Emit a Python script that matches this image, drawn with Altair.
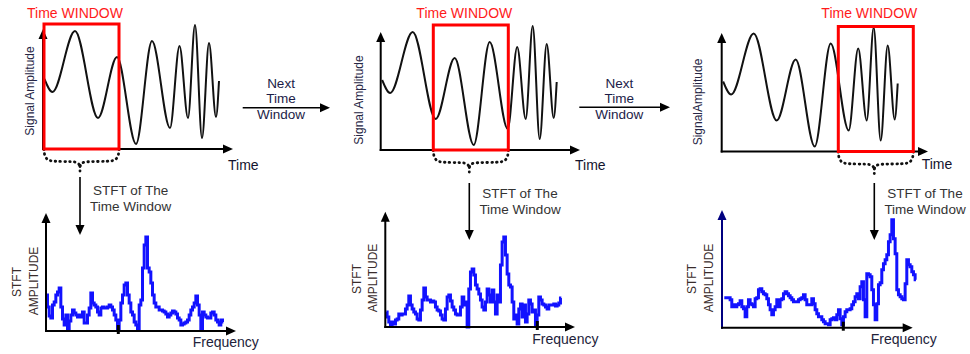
import altair as alt
import pandas as pd

W, H = 970, 354

# ---------------- values ----------------
# signal: time (from the start of the time axis) and amplitude of successive extrema
sig_time = [1.5, 9.5, 32, 55, 74, 93, 109, 127, 136.5, 145, 152, 159, 166, 173, 176]
sig_amp = [70, 57, 118, 31, 92, 5, 108, 21, 103, 31, 124, 11, 106, 32, 68]

# time window (same time units) in each of the three snapshots
window_start = [1, 52.6, 116.6]
window_length = 75
window_top = 125

# STFT amplitude of each window, on successive frequency bins
spec_1 = [36, 24, 15, 13, 26, 29, 36, 39, 43, 24, 12, 6, 16, 2, 10, 16, 21, 18, 16, 14,
          16, 14, 19, 8, 8, 16, 23, 38, 28, 26, 24, 19, 16, 23, 24, 23, 23, 24, 26, 24,
          21, 16, 11, 2, 11, 28, 36, 46, 48, 36, 28, 19, 16, 9, 6, 1, 26, 31, 63, 86,
          94, 63, 59, 48, 36, 28, 24, 24, 21, 21, 20, 19, 17, 14, 16, 18, 20, 19, 17, 13,
          11, 6, 7, 8, 9, 11, 16, 21, 24, 28, 35, 26, 16, 1, 19, 16, 14, 13, 13, 18,
          19, 16, 11, 9, 6, 11, 9]
spec_2 = [15, 10, 5, 2, 5, 3, 7, 8, 13, 12, 13, 13, 18, 22, 31, 22, 18, 15, 13, 8,
          7, 17, 27, 39, 30, 27, 27, 25, 26, 25, 20, 17, 16, 12, 8, 7, 18, 30, 32, 26,
          20, 17, 13, 12, 12, 20, 30, 22, 25, 0, 38, 55, 58, 52, 42, 38, 33, 27, 20, 17,
          25, 38, 32, 25, 37, 25, 13, 32, 25, 62, 85, 90, 72, 53, 42, 40, 25, 8, 12, 3,
          18, 23, 10, 22, 5, 13, 27, 23, 15, 17, 2, 12, 30, 27, 23, 22, 20, 18, 22, 22,
          22, 23, 21, 22, 24, 29]
spec_3 = [30, 30, 30, 30, 28, 21, 23, 21, 23, 24, 27, 21, 19, 11, 21, 28, 24, 23, 21, 29,
          30, 38, 39, 36, 34, 33, 29, 23, 18, 13, 18, 21, 28, 21, 28, 29, 34, 36, 34, 32,
          30, 28, 26, 26, 26, 28, 29, 30, 33, 28, 23, 23, 23, 29, 24, 18, 14, 11, 11, 8,
          6, 4, 4, 3, 8, 9, 10, 8, 13, 18, 9, 3, 11, 16, 18, 18, 19, 23, 26, 31,
          34, 29, 41, 46, 28, 11, 54, 53, 51, 38, 23, 8, 24, 43, 45, 58, 64, 68, 73, 86,
          93, 108, 89, 74, 38, 33, 31, 29, 28, 44, 68, 63, 61, 56, 53, 48]
spectra = [spec_1, spec_2, spec_3]
spec_first_bin = [0.67, 1.0, 2.3]
bin_width = 5 / 3

# texts
window_label = "Time WINDOW"
time_label = "Time"
amp_labels = ["Signal Amplitude", "Signal Amplitude", "SignalAmplitude"]
stft_lines = ["STFT of The", "Time Window"]
next_lines = ["Next", "Time", "Window"]
freq_label = "Frequency"
spec_ylabel = ["STFT", "AMPLITUDE"]

# ---------------- layout ----------------
FONT = "Liberation Sans"
top = [
    dict(ox=43, oy=149, ytop=29, xtip=233, lx=30, ly=91, tx=228, ty=169.5, a0=177, a1=235, sy=195),
    dict(ox=380.7, oy=150, ytop=32, xtip=580, lx=358.8, ly=100, tx=575, ty=169.5, a0=183, a1=240, sy=198),
    dict(ox=721.7, oy=151.5, ytop=33, xtip=928, lx=698.3, ly=102, tx=921.7, ty=168.5, a0=183, a1=240, sy=198),
]
bottom = [
    dict(ox=46, oy=331, ytop=213, xtip=236, sx=16.7, ax=34.3, ly=281, fx=192.7, fy=347, tick=72.3, col="black"),
    dict(ox=385.3, oy=327, ytop=211.7, xtip=575, sx=356.7, ax=373.3, ly=278, fx=532.3, fy=344, tick=152, col="black"),
    dict(ox=722, oy=327.7, ytop=210, xtip=912.7, sx=692.3, ax=709, ly=278, fx=870.7, fy=344, tick=121.3, col="#000080"),
]
nexts = [dict(x0=242.7, x1=330, y=107.7, tx=281), dict(x0=579.3, x1=670, y=107.3, tx=619.3)]

xs = alt.Scale(domain=[0, W], range=[0, W], nice=False, zero=False)
ys = alt.Scale(domain=[0, H], range=[0, H], nice=False, zero=False)


def X(f):
    return alt.X(f"{f}:Q", scale=xs, axis=None)


def Y(f):
    return alt.Y(f"{f}:Q", scale=ys, axis=None)


# signal table
rows = []
for k, p in enumerate(top):
    for t, a in zip(sig_time, sig_amp):
        rows.append(dict(panel=k, t=t, amp=a, ox=p["ox"], oy=p["oy"]))
sig_df = pd.DataFrame(rows)

signal = alt.Chart(sig_df).transform_calculate(
    px="datum.ox + datum.t", py="datum.oy - datum.amp"
).mark_line(interpolate="monotone", color="#111111", strokeWidth=2).encode(
    x=X("px"), y=Y("py"), detail="panel:N"
)

# windows
win_df = pd.DataFrame([
    dict(panel=k, ws=ws, ox=top[k]["ox"], oy=top[k]["oy"]) for k, ws in enumerate(window_start)
])
windows = alt.Chart(win_df).transform_calculate(
    x1="datum.ox + datum.ws", x2="datum.ox + datum.ws + %f" % window_length,
    y1="datum.oy - %f" % window_top, y2="datum.oy"
).mark_rect(fillOpacity=0, stroke="#ff0000", strokeWidth=3).encode(
    x=X("x1"), x2="x2:Q", y=Y("y1"), y2="y2:Q"
)
win_text = alt.Chart(win_df).transform_calculate(
    px="datum.ox + datum.ws + %f - 6.5" % (window_length / 2), py="17.5", label="'%s'" % window_label
).mark_text(font=FONT, fontSize=14, color="#ff1a1a", align="center", baseline="alphabetic").encode(
    x=X("px"), y=Y("py"), text="label:N"
)

# spectra table
rows = []
for k, sp in enumerate(spectra):
    b = bottom[k]
    for i, a in enumerate(sp):
        rows.append(dict(panel=k, f=spec_first_bin[k] + i * bin_width, amp=a, ox=b["ox"], oy=b["oy"]))
spec_df = pd.DataFrame(rows)
spec = alt.Chart(spec_df).transform_calculate(
    px="datum.ox + datum.f", py="datum.oy - datum.amp"
).mark_line(interpolate="step", color="#1212ff", strokeWidth=3).encode(
    x=X("px"), y=Y("py"), detail="panel:N"
)

# axis lines, arrows and small marks
rules = []
ups, rights, downs = [], [], []
for p in top:
    rules.append(dict(x=p["ox"], y=p["ytop"] + 8, x2=p["ox"], y2=p["oy"] + 1, c="black", w=2))
    rules.append(dict(x=p["ox"] - 1, y=p["oy"], x2=p["xtip"] - 8, y2=p["oy"], c="black", w=2))
    ups.append(dict(x=p["ox"], y=p["ytop"] + 5, c="black"))
    rights.append(dict(x=p["xtip"] - 5, y=p["oy"], c="black"))
for b in bottom:
    rules.append(dict(x=b["ox"], y=b["ytop"] + 8, x2=b["ox"], y2=b["oy"] + 1, c=b["col"], w=2))
    rules.append(dict(x=b["ox"] - 1, y=b["oy"], x2=b["xtip"] - 8, y2=b["oy"], c="black", w=2))
    rules.append(dict(x=b["ox"] + b["tick"], y=b["oy"] - 6, x2=b["ox"] + b["tick"], y2=b["oy"] + 3, c="black", w=3))
    ups.append(dict(x=b["ox"], y=b["ytop"] + 5, c=b["col"]))
    rights.append(dict(x=b["xtip"] - 5, y=b["oy"], c="black"))
for n in nexts:
    rules.append(dict(x=n["x0"], y=n["y"], x2=n["x1"] - 8, y2=n["y"], c="black", w=1.6))
    rights.append(dict(x=n["x1"] - 5, y=n["y"], c="black"))

brace_rows = []
stft_text = []
for k, p in enumerate(top):
    L = p["ox"] + window_start[k]
    R = L + window_length
    C = (L + R) / 2 - 1.5
    oy = p["oy"]
    rules.append(dict(x=C, y=p["a0"], x2=C, y2=p["a1"] - 8, c="black", w=1.6))
    downs.append(dict(x=C, y=p["a1"] - 5, c="black"))
    left = [(L, oy), (L + 0.3, oy + 6), (L + 3, oy + 11), (L + 9, oy + 12.5), (C - 7, oy + 12.5), (C - 2, oy + 13.5), (C, oy + 17)]
    right = [(C, oy + 17), (C + 2, oy + 13.5), (C + 7, oy + 12.5), (R - 9, oy + 12.5), (R - 3, oy + 11), (R - 0.3, oy + 6), (R, oy)]
    for j, (bx, by) in enumerate(left):
        brace_rows.append(dict(seg=f"{k}L", o=j, x=bx, y=by))
    for j, (bx, by) in enumerate(right):
        brace_rows.append(dict(seg=f"{k}R", o=j, x=bx, y=by))
    brace_rows.append(dict(seg=f"{k}T", o=0, x=C, y=oy + 17))
    brace_rows.append(dict(seg=f"{k}T", o=1, x=C, y=oy + 22))
    stft_text.append(dict(x=C + 50.7, y=p["sy"], t=stft_lines[0]))
    stft_text.append(dict(x=C + 50.7, y=p["sy"] + 15.5, t=stft_lines[1]))

rule_layer = alt.Chart(pd.DataFrame(rules)).mark_rule().encode(
    x=X("x"), y=Y("y"), x2="x2:Q", y2="y2:Q",
    color=alt.Color("c:N", scale=None), strokeWidth=alt.StrokeWidth("w:Q", scale=None)
)


def heads(df_rows, path):
    return alt.Chart(pd.DataFrame(df_rows)).mark_point(
        shape=path, size=100, filled=True, opacity=1, strokeWidth=0
    ).encode(x=X("x"), y=Y("y"), color=alt.Color("c:N", scale=None))


up_layer = heads(ups, "M0,-1L-0.9,1L0.9,1Z")
right_layer = heads(rights, "M1,0L-1,-0.9L-1,0.9Z")
down_layer = heads(downs, "M0,1L-0.9,-1L0.9,-1Z")

brace = alt.Chart(pd.DataFrame(brace_rows)).mark_line(
    interpolate="basis", color="#111111", strokeWidth=2.8, strokeDash=[0.6, 4.2], strokeCap="round"
).encode(x=X("x"), y=Y("y"), detail="seg:N", order="o:Q")


def text_layer(rows_, size, color, align="center", baseline="alphabetic", angle=0):
    kw = dict(font=FONT, fontSize=size, color=color, align=align, baseline=baseline)
    if angle:
        kw["angle"] = angle
    return alt.Chart(pd.DataFrame(rows_)).mark_text(**kw).encode(x=X("x"), y=Y("y"), text="t:N")


t_time = text_layer([dict(x=p["tx"], y=p["ty"], t=time_label) for p in top], 14, "#14142e", align="left")
t_sig = text_layer([dict(x=p["lx"], y=p["ly"], t=amp_labels[k]) for k, p in enumerate(top)], 12, "#262645",
                   baseline="middle", angle=270)
t_stft = text_layer(stft_text, 13.5, "#333333")
t_next = text_layer([dict(x=n["tx"], y=yy, t=s) for n in nexts for s, yy in zip(next_lines, [84.3, 99.3, 114.8])],
                    13.5, "#1c1c48", baseline="middle")
t_freq = text_layer([dict(x=b["fx"], y=b["fy"], t=freq_label) for b in bottom], 14, "#22223a", align="left")
t_spec_y = text_layer([dict(x=b["sx"], y=b["ly"] + 1, t=spec_ylabel[0]) for b in bottom] +
                      [dict(x=b["ax"], y=b["ly"], t=spec_ylabel[1]) for b in bottom],
                      12, "#3a2c2c", baseline="middle", angle=270)

chart = alt.layer(
    signal, brace, spec, rule_layer, up_layer, right_layer, down_layer, windows,
    win_text, t_time, t_sig, t_stft, t_next, t_freq, t_spec_y
).properties(
    width=W, height=H, autosize=alt.AutoSizeParams(type="none"), padding=0, background="white"
).configure_view(strokeWidth=0)

chart.save("out.html", embed_options={"renderer": "svg", "actions": False})
